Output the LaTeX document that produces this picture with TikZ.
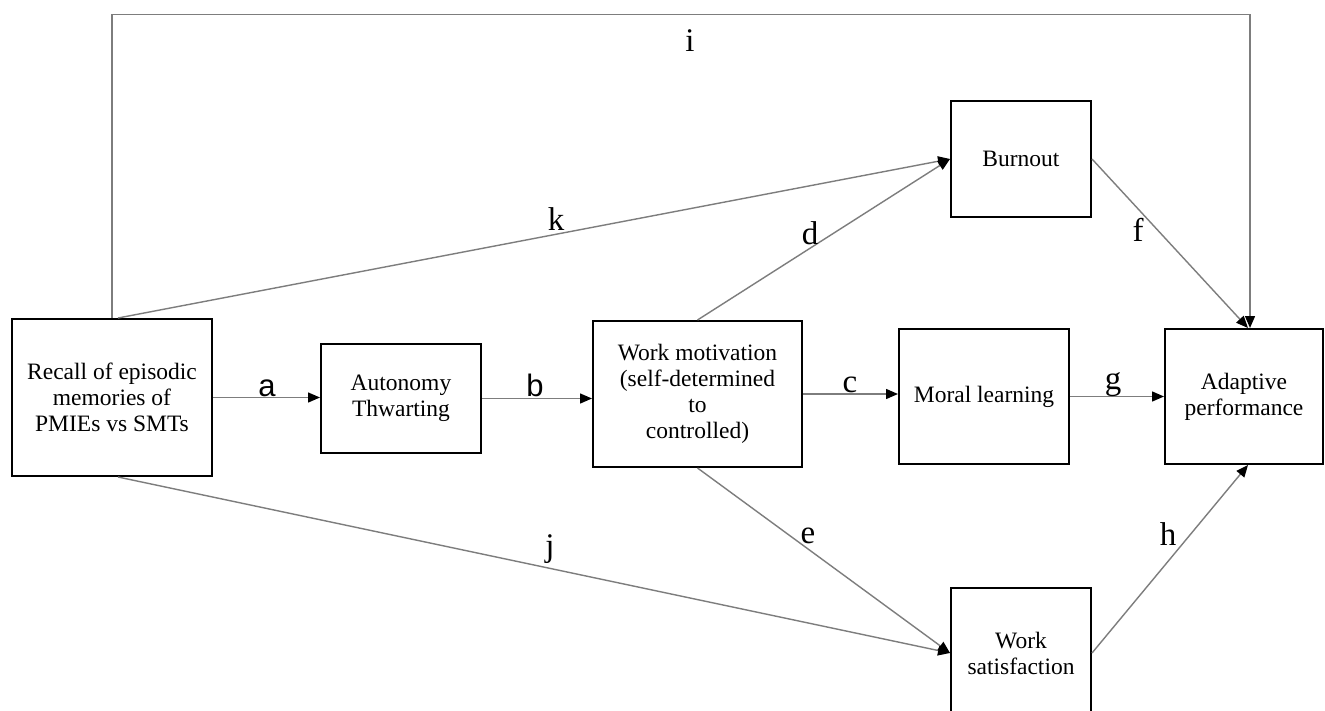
\documentclass[tikz,border=0pt]{standalone}
\usepackage{fontspec}
\setmainfont{Liberation Serif}
\newfontfamily\labsans{Liberation Sans}
\usetikzlibrary{arrows.meta}
\definecolor{linegray}{RGB}{125,125,125}
\begin{document}
\begin{tikzpicture}[x=1pt,y=-1pt,
  box/.style={draw=black, line width=2pt, align=center, inner sep=0pt,
    font=\fontsize{23.5}{26}\selectfont},
  conn/.style={draw=linegray, line width=1.4pt,
    -{Triangle[length=12pt,width=10pt,color=black]}},
  lab/.style={font=\fontsize{33}{36}\selectfont, anchor=base, inner sep=0pt},
  labs/.style={font=\labsans\fontsize{31}{34}\selectfont, anchor=base, inner sep=0pt}]
\useasboundingbox (0,0) rectangle (1325,711);
\clip (0,0) rectangle (1325,711);
\fill[white] (0,0) rectangle (1325,711);

% boxes
\node[box, minimum width=200pt, minimum height=157pt] (recall) at (112,397.5)
  {Recall of episodic\\memories of\\PMIEs vs SMTs};
\node[box, minimum width=160pt, minimum height=109pt] (auto) at (401,398.5)
  {Autonomy\\Thwarting};
\node[box, minimum width=209pt, minimum height=146pt] (wm) at (697.5,394)
  {Work motivation\\(self-determined\\to\\controlled)};
\node[box, minimum width=170pt, minimum height=135pt] (moral) at (984,396.5)
  {Moral learning};
\node[box, minimum width=158pt, minimum height=135pt] (adapt) at (1244,396.5)
  {Adaptive\\performance};
\node[box, minimum width=140pt, minimum height=116pt] (burn) at (1021,159)
  {Burnout};
\node[box, minimum width=140pt, minimum height=130pt] (ws) at (1021,653)
  {Work\\satisfaction};

% connectors
\coordinate (itl) at (112,14.7);
\coordinate (itr) at (1250,14.7);
\draw[conn] (recall.north) -- (itl) -- (itr) -- ([xshift=6pt]adapt.north);
\draw[conn] (recall.east) -- (recall.east -| auto.west);
\draw[conn] (auto.east) -- (auto.east -| wm.west);
\draw[conn] (wm.east) -- (wm.east -| moral.west);
\draw[conn] (moral.east) -- (moral.east -| adapt.west);
\draw[conn] ([xshift=6pt]recall.north) -- (burn.west);
\draw[conn] (wm.north) -- (burn.west);
\draw[conn] ([xshift=6pt]recall.south) -- (ws.west);
\draw[conn] (wm.south) -- (ws.west);
\draw[conn] (burn.east) -- ([xshift=4pt]adapt.north);
\draw[conn] (ws.east) -- ([xshift=4pt]adapt.south);

% labels
\node[labs] (la) at (267,396) {a};
\node[labs] (lb) at (535,396) {b};
\node[lab] (lc) at (850,392) {c};
\node[lab] (ld) at (810,245) {d};
\node[lab] (le) at (808,543) {e};
\node[lab] (lf) at (1138,242) {f};
\node[lab] (lg) at (1113,389) {g};
\node[lab] (lh) at (1168,545) {h};
\node[lab] (li) at (690,52) {i};
\node[lab] (lj) at (550,556) {j};
\node[lab] (lk) at (556,231) {k};
\end{tikzpicture}
\end{document}
